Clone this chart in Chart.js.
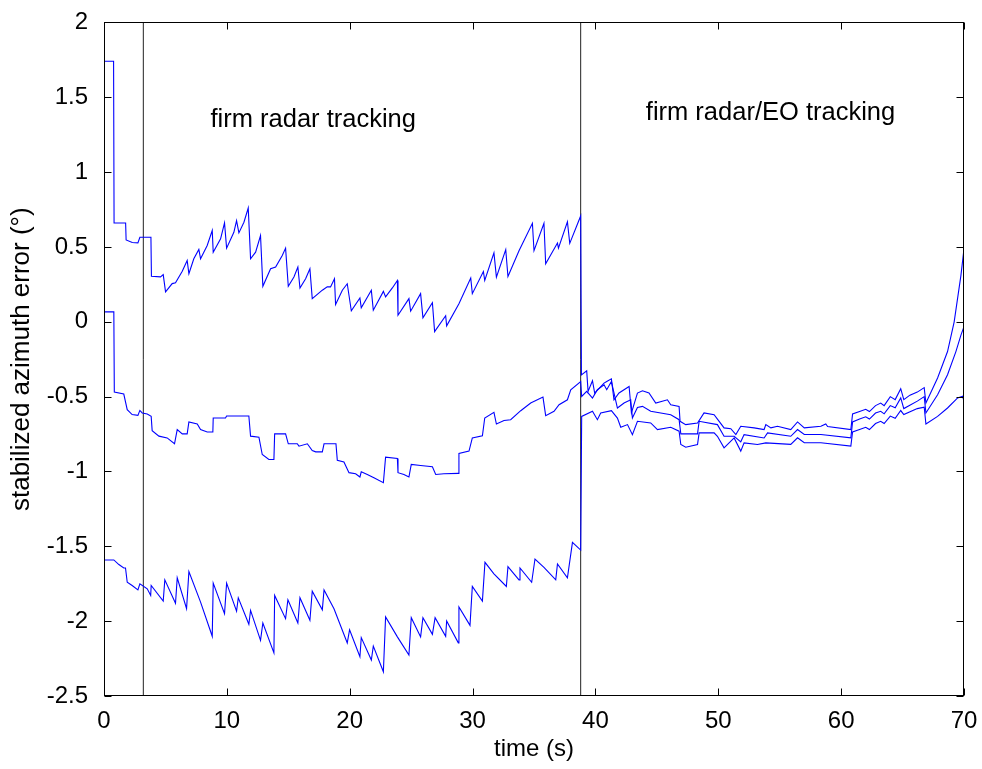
<!DOCTYPE html>
<html>
<head>
<meta charset="utf-8">
<script src="https://cdn.jsdelivr.net/npm/chart.js@4"></script>
<style>
  html, body { margin: 0; padding: 0; background: #fff; }
</style>
</head>
<body>
<canvas id="chart" width="982" height="769"></canvas>
<script>
'use strict';

// time axis and tick labels
const xTicks = [0, 10, 20, 30, 40, 50, 60, 70];
const yTicks = [-2.5, -2, -1.5, -1, -0.5, 0, 0.5, 1, 1.5, 2];

// upper trace
const topTime = [0, 0.78, 0.82, 1.76, 1.80, 2.3, 2.76, 2.92, 3.82, 3.86,
  4.6, 4.82, 5.01, 5.55, 5.82, 6.37, 6.77, 6.91, 7.31, 7.72,
  7.86, 8.40, 8.81, 8.89, 9.49, 9.81, 9.98, 10.57, 10.79, 10.98,
  11.39, 11.74, 11.93, 12.34, 12.74, 12.93, 13.56, 13.97, 14.51, 14.78,
  15.0, 15.46, 15.78, 15.95, 16.41, 16.76, 16.95, 17.77, 18.17, 18.44,
  18.76, 18.85, 19.40, 19.80, 20.13, 20.83, 20.94, 21.76, 21.92, 22.74,
  22.92, 23.47, 23.88, 23.93, 24.82, 24.96, 25.77, 25.96, 26.73, 26.91,
  27.81, 27.89, 28.89, 29.85, 29.98, 30.88, 30.99, 31.74, 31.94, 32.70,
  32.88, 33.78, 34.87, 35.0, 35.81, 35.95, 36.91, 36.99, 37.72, 37.91,
  38.80, 38.86, 39.29, 39.40, 39.76, 39.94, 40.70, 40.92, 41.30, 41.51,
  41.92, 42.74, 42.93, 43.42, 43.83, 44.36, 44.91, 45.86, 46.13, 46.81,
  46.89, 47.35, 48.31, 48.84, 49.66, 50.07, 50.47, 51.02, 51.43, 51.83,
  52.92, 53.73, 53.87, 54.28, 54.82, 55.90, 56.45, 57.0, 58.35, 58.75,
  58.9, 60.79, 60.93, 61.5, 62.0, 62.3, 62.8, 63.22, 63.5, 64.0,
  64.4, 64.85, 65.1, 65.6, 66.2, 66.76, 66.9, 67.85, 68.66, 69.2,
  69.75, 70];
const topValue = [1.74, 1.74, 0.66, 0.66, 0.547, 0.53, 0.527, 0.565, 0.565, 0.304,
  0.30, 0.315, 0.20, 0.255, 0.261, 0.337, 0.41, 0.321, 0.421, 0.483,
  0.421, 0.51, 0.61, 0.465, 0.554, 0.66, 0.492, 0.598, 0.676, 0.594,
  0.665, 0.76, 0.421, 0.465, 0.576, 0.237, 0.354, 0.366, 0.443, 0.492,
  0.237, 0.299, 0.366, 0.226, 0.288, 0.354, 0.155, 0.211, 0.233, 0.233,
  0.288, 0.115, 0.211, 0.254, 0.073, 0.159, 0.093, 0.21, 0.077, 0.203,
  0.166, 0.226, 0.276, 0.044, 0.155, 0.071, 0.188, 0.027, 0.128, -0.066,
  0.04, -0.027, 0.121, 0.292, 0.188, 0.336, 0.277, 0.46, 0.298, 0.482,
  0.303, 0.475, 0.658, 0.475, 0.658, 0.387, 0.526, 0.492, 0.668, 0.524,
  0.707, -0.355, -0.328, -0.465, -0.394, -0.476, -0.41, -0.399, -0.381, -0.521,
  -0.476, -0.432, -0.609, -0.476, -0.461, -0.476, -0.543, -0.521, -0.554, -0.565,
  -0.665, -0.687, -0.676, -0.609, -0.621, -0.665, -0.709, -0.714, -0.754, -0.698,
  -0.709, -0.72, -0.687, -0.709, -0.698, -0.72, -0.669, -0.709, -0.698, -0.683,
  -0.70, -0.72, -0.616, -0.60, -0.585, -0.60, -0.56, -0.543, -0.56, -0.50,
  -0.52, -0.447, -0.52, -0.49, -0.47, -0.44, -0.543, -0.376, -0.199, 0.0,
  0.31, 0.488];

// middle trace
const midTime = [0, 0.80, 0.84, 1.61, 1.89, 2.29, 2.76, 2.92, 3.11, 3.52,
  3.84, 3.92, 4.47, 5.14, 5.74, 5.96, 6.37, 6.77, 6.91, 7.59,
  7.86, 8.40, 8.86, 8.89, 9.89, 9.98, 11.79, 11.93, 12.61, 12.88,
  13.42, 13.83, 13.89, 14.78, 15.0, 15.73, 15.87, 16.55, 16.95, 17.23,
  17.77, 17.91, 18.88, 18.99, 19.53, 19.94, 20.48, 20.83, 20.94, 21.43,
  21.97, 22.74, 22.92, 23.88, 23.93, 24.41, 24.82, 25.01, 25.77, 26.73,
  27.0, 27.67, 28.84, 28.89, 29.71, 29.98, 30.80, 30.99, 31.74, 31.94,
  32.56, 33.10, 33.92, 34.73, 35.73, 35.95, 36.63, 37.04, 37.72, 37.99,
  38.80, 38.88, 39.29, 39.76, 40.16, 40.70, 40.92, 41.30, 41.79, 42.33,
  42.87, 43.01, 43.42, 43.83, 44.50, 46.13, 46.81, 46.95, 48.31, 48.44,
  49.93, 50.47, 51.29, 51.83, 52.10, 53.73, 54.01, 55.90, 56.45, 57.0,
  58.35, 60.79, 60.93, 61.5, 62.0, 62.3, 62.8, 63.22, 63.5, 64.0,
  64.4, 64.85, 65.1, 66.2, 66.76, 66.9, 67.85, 68.66, 69.34, 69.75,
  70];
const midValue = [0.066, 0.066, -0.47, -0.483, -0.587, -0.62, -0.625, -0.592, -0.609, -0.616,
  -0.632, -0.727, -0.764, -0.776, -0.815, -0.72, -0.749, -0.749, -0.669, -0.683,
  -0.72, -0.736, -0.736, -0.643, -0.643, -0.629, -0.629, -0.764, -0.771, -0.887,
  -0.92, -0.92, -0.749, -0.749, -0.815, -0.815, -0.831, -0.815, -0.86, -0.869,
  -0.869, -0.815, -0.815, -0.926, -0.937, -1.008, -1.015, -1.037, -1.002, -1.02,
  -1.042, -1.075, -0.904, -0.913, -1.008, -1.02, -1.037, -0.953, -0.96, -0.968,
  -1.02, -1.015, -1.013, -0.88, -0.864, -0.776, -0.762, -0.643, -0.605, -0.683,
  -0.66, -0.654, -0.594, -0.543, -0.503, -0.627, -0.598, -0.554, -0.521, -0.454,
  -0.399, -0.499, -0.465, -0.51, -0.454, -0.421, -0.454, -0.399, -0.576, -0.543,
  -0.521, -0.643, -0.572, -0.565, -0.598, -0.621, -0.654, -0.749, -0.749, -0.665,
  -0.687, -0.765, -0.765, -0.802, -0.754, -0.776, -0.742, -0.765, -0.72, -0.753,
  -0.753, -0.775, -0.669, -0.65, -0.635, -0.65, -0.61, -0.598, -0.615, -0.56,
  -0.575, -0.509, -0.58, -0.53, -0.50, -0.609, -0.487, -0.354, -0.199, -0.089,
  -0.033];

// lower trace
const botTime = [0, 0.80, 1.21, 1.61, 1.75, 1.89, 2.29, 2.76, 2.92, 3.52,
  3.80, 3.84, 4.82, 4.95, 5.82, 5.96, 6.72, 6.91, 7.86, 8.81,
  8.89, 9.81, 9.98, 10.79, 10.93, 11.79, 11.93, 12.74, 12.93, 13.83,
  13.89, 14.78, 14.97, 15.78, 15.95, 16.76, 16.95, 17.77, 17.91, 18.72,
  19.80, 19.99, 20.83, 20.94, 21.76, 21.92, 22.74, 22.92, 23.88, 24.82,
  25.01, 25.77, 25.96, 26.73, 26.95, 27.81, 27.89, 28.84, 28.89, 29.79,
  29.98, 30.80, 31.01, 31.74, 32.75, 32.88, 33.78, 33.86, 34.81, 35.08,
  35.81, 36.77, 36.91, 37.72, 38.13, 38.80, 38.88, 39.76, 40.16, 40.43,
  41.30, 41.79, 42.06, 42.61, 43.01, 43.42, 44.50, 45.05, 46.13, 46.81,
  46.95, 47.35, 48.31, 48.44, 49.66, 49.93, 50.47, 51.29, 51.83, 52.10,
  53.19, 53.87, 55.90, 56.45, 57.0, 58.35, 60.79, 60.93, 61.5, 62.0,
  62.3, 62.8, 63.22, 63.5, 64.0, 64.4, 64.85, 65.1, 66.2, 66.76,
  66.9, 67.85, 68.66, 69.48, 69.89, 70];
const botValue = [-1.591, -1.591, -1.622, -1.645, -1.645, -1.74, -1.762, -1.791, -1.751, -1.784,
  -1.828, -1.762, -1.866, -1.724, -1.88, -1.711, -1.917, -1.669, -1.873, -2.101,
  -1.746, -1.95, -1.746, -1.933, -1.844, -2.021, -1.928, -2.128, -2.012, -2.212,
  -1.828, -1.983, -1.857, -2.012, -1.844, -1.994, -1.8, -1.924, -1.791, -1.917,
  -2.145, -2.057, -2.238, -2.11, -2.26, -2.167, -2.338, -1.972, -2.105, -2.227,
  -1.977, -2.105, -1.977, -2.088, -1.977, -2.101, -1.999, -2.145, -1.906, -2.028,
  -1.768, -1.866, -1.607, -1.684, -1.768, -1.636, -1.724, -1.645, -1.74, -1.585,
  -1.64, -1.724, -1.618, -1.711, -1.474, -1.525, -0.632, -0.598, -0.654, -0.609,
  -0.594, -0.643, -0.705, -0.687, -0.754, -0.665, -0.676, -0.72, -0.705, -0.731,
  -0.82, -0.838, -0.82, -0.742, -0.742, -0.765, -0.842, -0.776, -0.864, -0.809,
  -0.82, -0.809, -0.819, -0.775, -0.808, -0.808, -0.831, -0.736, -0.72, -0.705,
  -0.72, -0.68, -0.665, -0.68, -0.63, -0.645, -0.593, -0.62, -0.58, -0.57,
  -0.683, -0.632, -0.576, -0.509, -0.498, -0.532];

// phase boundaries and notes
const markerTimes = [3.2, 38.8];
const noteLabels = ['firm radar tracking', 'firm radar/EO tracking'];
const noteTimes = [8.67, 44.1];
const noteValues = [1.30, 1.35];

const fontFamily = '"Liberation Sans", Arial, sans-serif';
const traceColor = '#0000ff';

const toPoints = function(times, values){
  return times.map((t, i) => ({x: t, y: values[i]}));
};

const traceDataset = function(times, values){
  return {
    data: toPoints(times, values),
    borderColor: traceColor,
    borderWidth: 1.1,
    pointRadius: 0,
    tension: 0
  };
};

const markerDataset = function(t){
  return {
    data: [{x: t, y: yTicks[0]}, {x: t, y: yTicks[yTicks.length - 1]}],
    borderColor: '#222',
    borderWidth: 1,
    pointRadius: 0
  };
};

// frame with inward tick marks on all four sides, plus the text notes
const framePlugin = {
  id: 'frame',
  afterDatasetsDraw(chart){
    const {ctx, chartArea, scales} = chart;
    const left = Math.round(chartArea.left) + 0.5;
    const right = Math.round(chartArea.right) - 0.5;
    const top = Math.round(chartArea.top) + 0.5;
    const bottom = Math.round(chartArea.bottom) - 0.5;
    const tickLen = 7;

    ctx.save();
    ctx.strokeStyle = '#000';
    ctx.lineWidth = 1;
    ctx.strokeRect(left, top, right - left, bottom - top);

    ctx.beginPath();
    xTicks.forEach(v => {
      const px = Math.round(scales.x.getPixelForValue(v)) + 0.5;
      ctx.moveTo(px, bottom);
      ctx.lineTo(px, bottom - tickLen);
      ctx.moveTo(px, top);
      ctx.lineTo(px, top + tickLen);
    });
    yTicks.forEach(v => {
      const py = Math.round(scales.y.getPixelForValue(v)) + 0.5;
      ctx.moveTo(left, py);
      ctx.lineTo(left + tickLen, py);
      ctx.moveTo(right, py);
      ctx.lineTo(right - tickLen, py);
    });
    ctx.stroke();

    ctx.fillStyle = '#000';
    ctx.font = '25.5px ' + fontFamily;
    ctx.textAlign = 'left';
    ctx.textBaseline = 'alphabetic';
    noteLabels.forEach((label, i) => {
      ctx.fillText(label, scales.x.getPixelForValue(noteTimes[i]), scales.y.getPixelForValue(noteValues[i]));
    });
    ctx.restore();
  }
};

const datasets = [
  traceDataset(topTime, topValue),
  traceDataset(midTime, midValue),
  traceDataset(botTime, botValue)
];
markerTimes.forEach(t => datasets.push(markerDataset(t)));

new Chart(document.getElementById('chart').getContext('2d'), {
  type: 'line',
  data: {datasets: datasets},
  options: {
    responsive: false,
    animation: false,
    devicePixelRatio: 1,
    layout: {padding: {top: 19, right: 18, bottom: 0, left: 0}},
    plugins: {legend: {display: false}, tooltip: {enabled: false}},
    scales: {
      x: {
        type: 'linear',
        min: xTicks[0],
        max: xTicks[xTicks.length - 1],
        grid: {display: false},
        border: {display: false},
        afterBuildTicks: scale => { scale.ticks = xTicks.map(v => ({value: v})); },
        afterFit: scale => { scale.height = 73; },
        ticks: {
          color: '#000',
          font: {family: fontFamily, size: 24},
          padding: 3,
          maxRotation: 0,
          autoSkip: false,
          callback: v => String(v)
        },
        title: {
          display: true,
          text: 'time (s)',
          color: '#000',
          font: {family: fontFamily, size: 24},
          padding: {top: 0, bottom: 5}
        }
      },
      y: {
        type: 'linear',
        min: yTicks[0],
        max: yTicks[yTicks.length - 1],
        grid: {display: false},
        border: {display: false},
        afterBuildTicks: scale => { scale.ticks = yTicks.map(v => ({value: v})); },
        afterFit: scale => { scale.width = 104; },
        ticks: {
          color: '#000',
          font: {family: fontFamily, size: 24},
          padding: 8,
          autoSkip: false,
          callback: v => String(v)
        },
        title: {
          display: true,
          text: 'stabilized azimuth error (°)',
          color: '#000',
          font: {family: fontFamily, size: 26},
          padding: {top: 6, bottom: 0}
        }
      }
    }
  },
  plugins: [framePlugin]
});
</script>
</body>
</html>
